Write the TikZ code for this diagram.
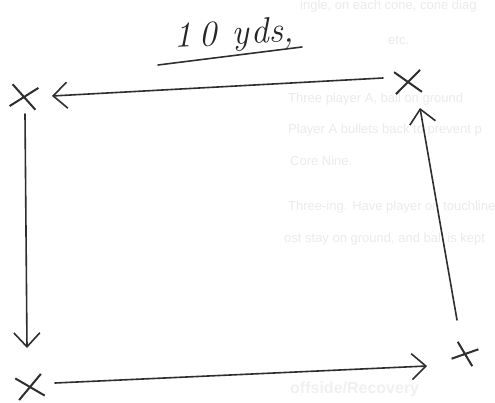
\documentclass[tikz,border=0pt]{standalone}
\usepackage{fontspec}
\newfontfamily\bleedfont{Liberation Sans}
\usetikzlibrary{arrows.meta,shapes.misc}
\tikzset{
  pen/.style={draw=black!82, line width=1.6pt, line cap=round},
  crossmark/.style={cross out, draw=black!82, line width=2pt, minimum width=24pt, minimum height=20pt, inner sep=0pt},
  runarrow/.style={pen, -{Straight Barb[length=14pt,width=26pt,line width=1.6pt]}},
  bleed/.style={anchor=base west, text=black!8, font=\bleedfont\fontsize{13}{15}\selectfont, inner sep=0pt}
}
\begin{document}
\begin{tikzpicture}[x=1pt,y=-1pt]
\useasboundingbox (0,0) rectangle (495,402);
\fill[white] (0,0) rectangle (495,402);
\begin{scope}
\clip (0,0) rectangle (495,402);
% faint show-through text
\node[bleed] (b1) at (300,9) {ingle, on each cone, cone diag};
\node[bleed] (b2) at (388,44) {etc.};
\node[bleed] (b3) at (288,102) {Three player A, ball on ground};
\node[bleed] (b4) at (288,133) {Player A bullets back to prevent p};
\node[bleed] (b5) at (290,165) {Core Nine.};
\node[bleed] (b6) at (288,210) {Three-ing. Have player on touchline};
\node[bleed] (b7) at (284,242) {ost stay on ground, and ball is kept};
\node[bleed, text=black!6, font=\bleedfont\bfseries\fontsize{16}{18}\selectfont] (b8) at (290,393) {offside/Recovery};
\end{scope}
% label
\node[text=black!85, inner sep=0pt, rotate=3] (lbl) at (234,36) {\fontsize{36}{38}\selectfont\itshape 1\hspace{7pt}0\hspace{15pt}y\hspace{2pt}ds,};
\coordinate (ul1) at (158,65);
\coordinate (ul2) at (302,47);
\draw[pen] (ul1) -- (ul2);
% corner crosses
\node[crossmark, rotate=-8] (tl) at (24,97) {};
\node[crossmark, rotate=5] (tr) at (408,82) {};
\node[crossmark, rotate=10] (bl) at (30,387) {};
\node[crossmark, minimum width=20pt, minimum height=16pt, rotate=-20] (br) at (465,354) {};
% arrow ends
\coordinate (a1s) at (383,78);
\coordinate (a1e) at (52,96);
\coordinate (a2s) at (25,114);
\coordinate (a2e) at (27,348);
\coordinate (a3s) at (55,383);
\coordinate (a3e) at (427,366);
\coordinate (a4s) at (457,320);
\coordinate (a4e) at (420,108);
\draw[runarrow] (a1s) -- (a1e);
\draw[runarrow] (a2s) -- (a2e);
\draw[runarrow] (a3s) -- (a3e);
\draw[runarrow] (a4s) -- (a4e);
\end{tikzpicture}
\end{document}
